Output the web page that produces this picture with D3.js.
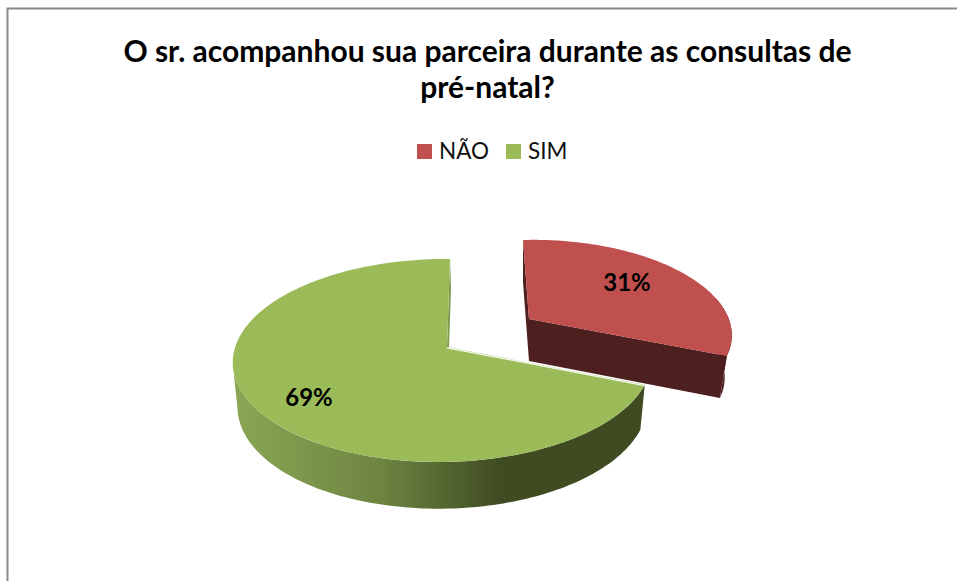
<!DOCTYPE html>
<html><head><meta charset="utf-8">
<script src="https://cdn.jsdelivr.net/npm/d3@7"></script>
<style>html,body{margin:0;padding:0;background:#fff;overflow:hidden}svg{display:block}text{font-family:Lato,"Open Sans",sans-serif}</style>
</head><body><svg id="c" width="957" height="581"></svg>
<script>
const categories=["NÃO","SIM"];
const values=[31,69];
const labels=["31%","69%"];
const colors=["#c0504d","#9bbb59"];
const titleLines=["O sr. acompanhou sua parceira durante as consultas de","pré-natal?"];

const svg=d3.select("#c");
const W=957,H=581;
const color=d3.scaleOrdinal(categories,colors);
const pie=d3.pie().sort(null).startAngle(0).endAngle(2*Math.PI)(values);

// perspective disc projection: angle (clockwise from 12 o'clock) -> screen point
function disc(o){
  return a=>{
    const u=Math.sin(a),v=Math.cos(a),w=1+o.p*v+o.q*u;
    return [o.x+(o.r*u+o.s*v)/w,o.y-o.k*v/w];
  };
}
const geom={
  "NÃO":{top:{x:529,y:319,r:186.6,k:89.5,p:.133,q:-.066,s:-6.8},
         low:{x:529,y:361,r:180,k:89.5,p:.133,q:-.066,s:-6.8}},
  "SIM":{top:{x:447,y:347,r:207.6,k:99.7,p:.133,q:.02,s:3.4},
         low:{x:447,y:391,r:203,k:102,p:.133,q:.02,s:3.4}}
};
const line=d3.line();
const arcPts=(f,a0,a1)=>d3.range(0,121).map(i=>f(a0+(a1-a0)*i/120));

const defs=svg.append("defs");
const grad=defs.append("linearGradient").attr("id","gw").attr("gradientUnits","userSpaceOnUse")
  .attr("x1",235).attr("x2",645).attr("y1",0).attr("y2",0);
[[0,"#8aa654"],[.35,"#6e8542"],[.65,"#3f4b21"],[1,"#3f4b21"]].forEach(s=>
  grad.append("stop").attr("offset",s[0]).attr("stop-color",s[1]));

// frame
svg.append("path").attr("d",`M7.5,${H}V8.5H${W}`).attr("fill","none").attr("stroke","#8a8a8a").attr("stroke-width",2);

// title
svg.append("g").selectAll("text").data(titleLines).join("text")
  .attr("x",487.5).attr("y",(d,i)=>62+i*36).attr("text-anchor","middle")
  .attr("font-size",30).attr("font-weight",700).attr("fill","#000").text(d=>d);

// legend
const legendX=[417,506];
const lg=svg.append("g").selectAll("g").data(categories).join("g")
  .attr("transform",(d,i)=>`translate(${legendX[i]},144)`);
lg.append("rect").attr("width",15).attr("height",15).attr("fill",d=>color(d));
lg.append("text").attr("x",22).attr("y",15).attr("font-size",22.5).attr("fill","#111").text(d=>d);

// red slice
function drawRed(d){
  const g=geom[categories[d.index]],T=disc(g.top),L=disc(g.low);
  const G=svg.append("g");
  G.append("path").attr("d",line([T(d.startAngle),L(d.startAngle),[g.low.x,g.low.y],[g.top.x,g.top.y]])+"Z").attr("fill","#4d1f1e");
  G.append("path").attr("d",line([...arcPts(T,d.endAngle-.6,d.endAngle),...arcPts(L,d.endAngle,d.endAngle-.6)])+"Z").attr("fill","#4d1f1e");
  G.append("path").attr("d",line([[g.top.x,g.top.y],T(d.endAngle),L(d.endAngle),[g.low.x,g.low.y]])+"Z").attr("fill","#4d1f1e");
  G.append("path").attr("d",line([[g.top.x,g.top.y],...arcPts(T,d.startAngle,d.endAngle)])+"Z").attr("fill",color(categories[d.index]));
}
// green slice
function drawGreen(d){
  const g=geom[categories[d.index]],T=disc(g.top),L=disc(g.low);
  const G=svg.append("g");
  const wallEnd=4.55;
  G.append("path").attr("d",line([...arcPts(T,d.startAngle,wallEnd),...arcPts(L,wallEnd,d.startAngle)])+"Z").attr("fill","url(#gw)");
  const e=d.endAngle,c=[g.top.x,g.top.y];
  G.append("path").attr("d",line([T(e),[T(e)[0]+1,T(e)[1]+30],[g.top.x+2,g.top.y],c])+"Z").attr("fill","#7f9a4e");
  G.append("path").attr("d",line([c,...arcPts(T,d.startAngle,d.endAngle)])+"Z").attr("fill",color(categories[d.index]));
  G.append("path").attr("d",line([c,T(d.startAngle)])).attr("stroke","#fff").attr("stroke-width",1.2).attr("fill","none").attr("transform","translate(0,.8)").attr("stroke-opacity",.9);
}
drawRed(pie[0]);drawGreen(pie[1]);

// data labels
const labelPos=[[627,291],[309,406]];
svg.append("g").selectAll("text").data(labels).join("text")
  .attr("x",(d,i)=>labelPos[i][0]).attr("y",(d,i)=>labelPos[i][1]).attr("text-anchor","middle")
  .attr("font-size",24).attr("font-weight",700).attr("fill","#000").text(d=>d);
</script></body></html>
